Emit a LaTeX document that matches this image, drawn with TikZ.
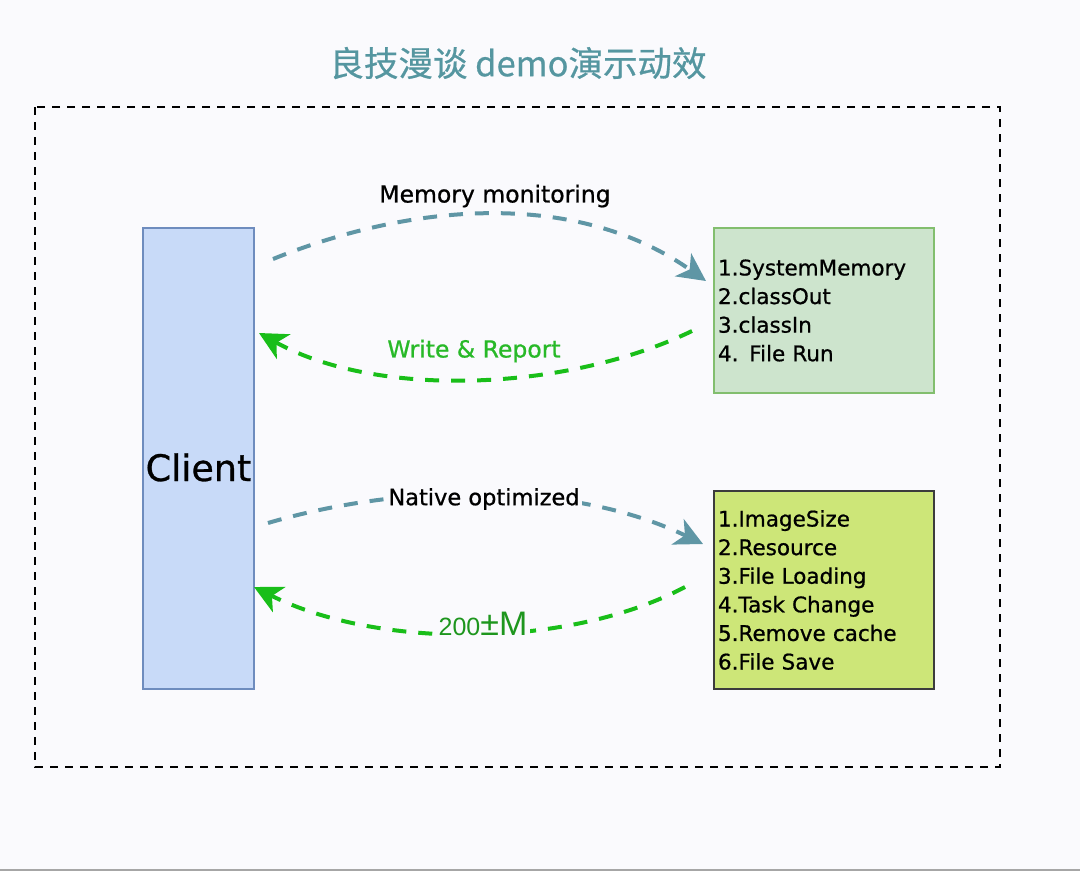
\documentclass[tikz,border=0pt]{standalone}
\usepackage{fontspec}
\setmainfont{DejaVu Sans}[FakeBold=0.8]
\newfontfamily\cjkfont{Noto Sans CJK SC}[FakeBold=0.6]
\newfontfamily\arialfont{Liberation Sans}
\usetikzlibrary{arrows.meta,calc}
\definecolor{bgc}{RGB}{250,250,253}
\definecolor{titlec}{RGB}{85,150,160}
\definecolor{tealc}{RGB}{95,150,165}
\definecolor{greenc}{RGB}{25,190,25}
\definecolor{greentxt}{RGB}{40,185,40}
\definecolor{darkgreentxt}{RGB}{30,150,30}
\definecolor{clientfill}{RGB}{200,218,248}
\definecolor{clientdraw}{RGB}{110,140,190}
\definecolor{boxAfill}{RGB}{205,228,205}
\definecolor{boxAdraw}{RGB}{130,190,110}
\definecolor{boxBfill}{RGB}{205,230,120}
\definecolor{boxBdraw}{RGB}{60,60,60}
\tikzset{
  frame/.style={draw=black, line width=2pt, dash pattern=on 8pt off 7pt},
  clientbox/.style={draw=clientdraw, fill=clientfill, line width=1.5pt, minimum width=111pt, minimum height=461pt, inner sep=0pt, font=\fontsize{36.5}{36.5}\selectfont},
  listbox/.style={line width=1.5pt, minimum width=220pt, inner xsep=4pt, text width=212pt, align=left, font=\fontsize{21.5}{28.6}\selectfont},
  flowT/.style={draw=tealc, line width=4pt, dash pattern=on 14pt off 12pt, -{Stealth[length=28pt,width=28pt,inset=8pt]}},
  flowG/.style={draw=greenc, line width=4pt, dash pattern=on 14pt off 12pt, -{Stealth[length=28pt,width=28pt,inset=8pt]}},
  lbl/.style={inner sep=2pt, font=\fontsize{23.5}{23.5}\selectfont},
}
\begin{document}
\begin{tikzpicture}[x=1pt,y=-1pt]
\useasboundingbox (0,0) rectangle (1080,871);
\fill[bgc] (0,0) rectangle (1080,871);
\draw[gray!70, line width=2pt] (0,870) -- (1080,870);
\node[text=titlec, font=\cjkfont\fontsize{34.5}{34.5}\selectfont] (title) at (518,63) {良技漫谈 demo演示动效};
\draw[frame] (35,107) rectangle (1000,767);

\node[clientbox] (client) at (198.5,458.5) {\raisebox{-22.5pt}[0pt][0pt]{Client}};
\node[listbox, draw=boxAdraw, fill=boxAfill, minimum height=165pt] (memlist) at (824,310.5)
  {1.SystemMemory\\2.classOut\\3.classIn\\4. File Run};
\node[listbox, draw=boxBdraw, fill=boxBfill, minimum height=198pt, line width=2pt] (natlist) at (824,590)
  {1.ImageSize\\2.Resource\\3.File Loading\\4.Task Change\\5.Remove cache\\6.File Save};

\coordinate (m1) at (273,259);
\coordinate (m2) at (706,281);
\coordinate (w1) at (692,331);
\coordinate (w2) at (259,333);
\coordinate (n1) at (268,523);
\coordinate (n2) at (703,544);
\coordinate (r1) at (685,587);
\coordinate (r2) at (254,587);

\draw[flowT] (m1) .. controls (420,200) and (580,192) .. (m2);
\draw[flowG] (w1) .. controls (570,390) and (380,400) .. (w2);
\draw[flowT] (n1) .. controls (400,484) and (570,480) .. (n2);
\draw[flowG] (r1) .. controls (570,648) and (380,650) .. (r2);

\node[lbl] (lm) at (495,196) {Memory monitoring};
\node[lbl, text=greentxt] (lw) at (474,351) {Write \& Report};
\node[lbl, fill=bgc, font=\fontsize{22.5}{22.5}\selectfont] (ln) at (484,499) {Native optimized};
\node[inner sep=3pt, fill=bgc, text=darkgreentxt, font=\arialfont] (lr) at (483,624)
  {{\fontsize{25}{25}\selectfont 200}{\fontsize{34}{34}\selectfont ±M}};
\end{tikzpicture}
\end{document}
